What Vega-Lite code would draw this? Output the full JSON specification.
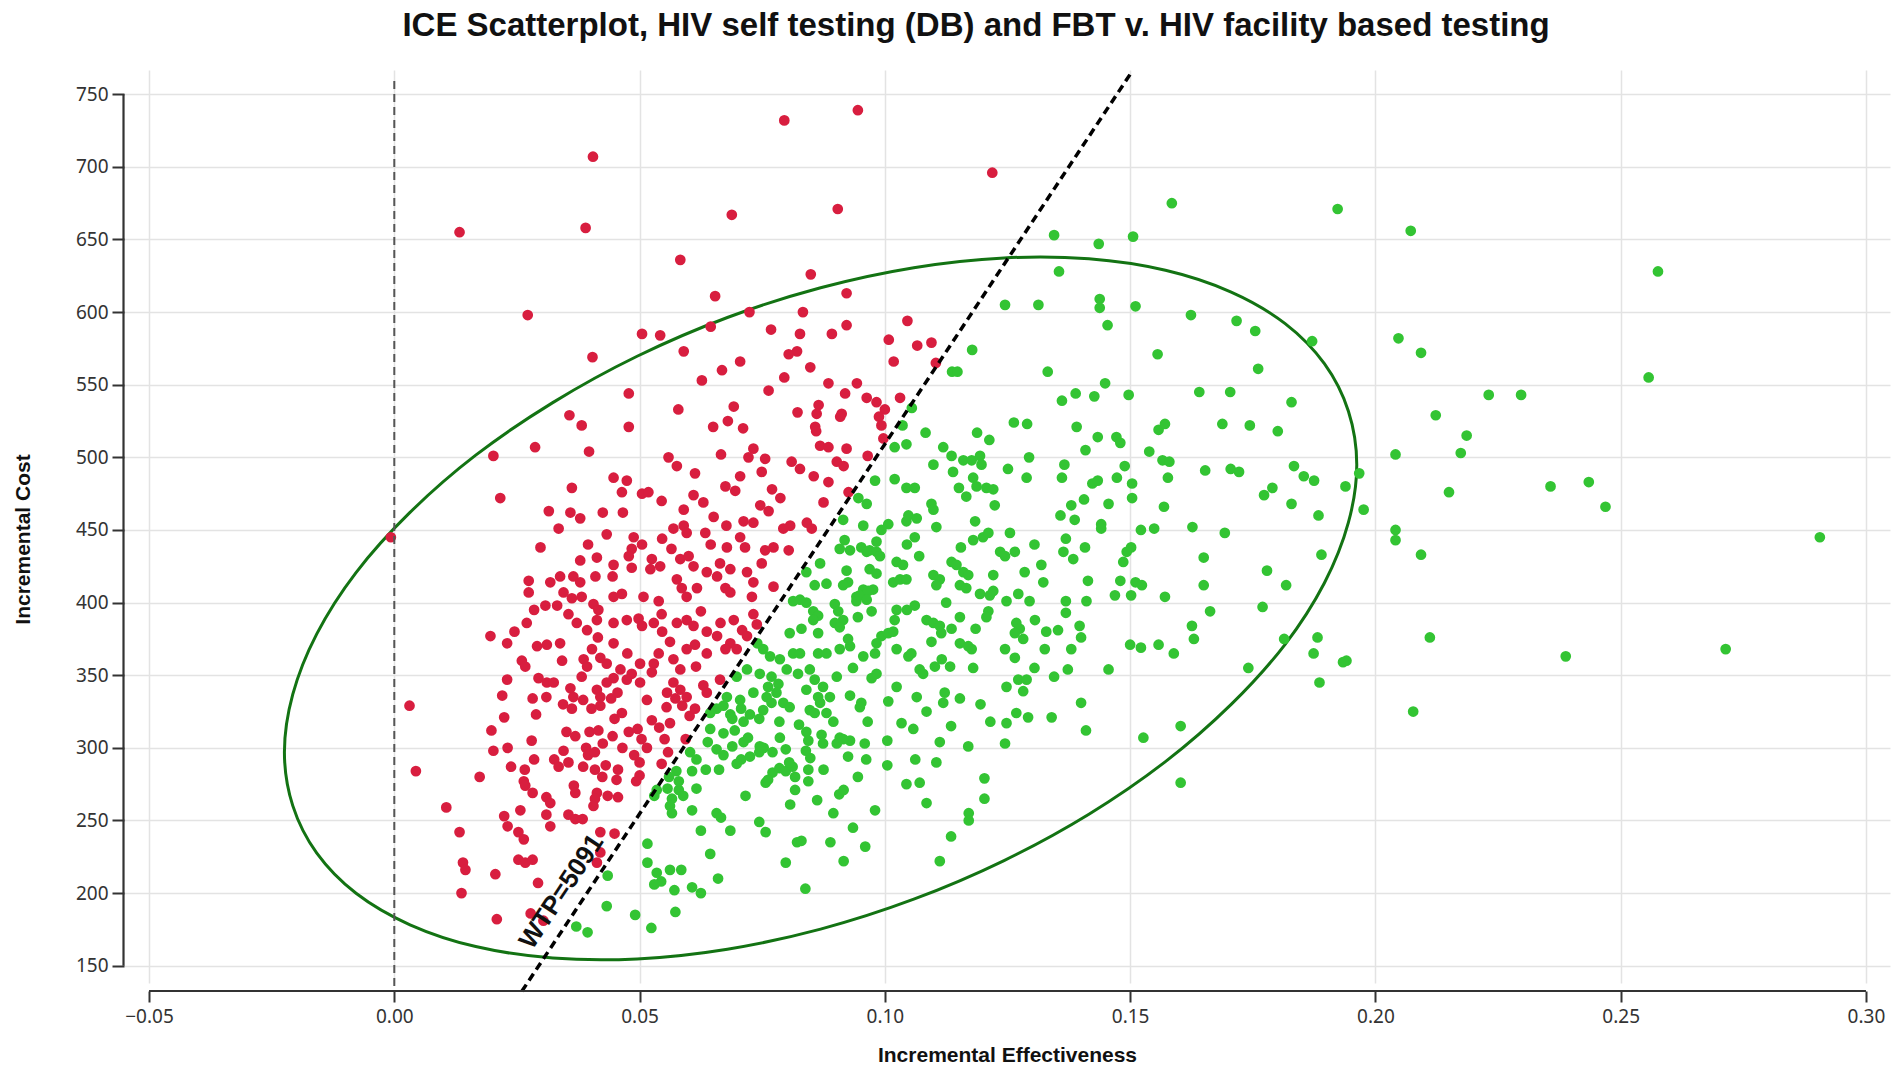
{
  "$schema": "https://vega.github.io/schema/vega-lite/v6.json",
  "width": 1766,
  "height": 913,
  "autosize": {"type": "none"},
  "padding": {"left": 124, "top": 70, "right": 11, "bottom": 96},
  "background": "#ffffff",
  "title": {
    "text": "ICE Scatterplot, HIV self testing (DB) and FBT v. HIV facility based testing",
    "font": "Liberation Sans",
    "fontSize": 33,
    "fontWeight": "bold",
    "color": "#111111",
    "anchor": "middle",
    "dx": -31,
    "offset": 27
  },
  "config": {
    "view": {"stroke": null},
    "axis": {
      "grid": true,
      "gridColor": "#e3e3e3",
      "gridWidth": 1.5,
      "domain": false,
      "tickColor": "#333333",
      "tickWidth": 2,
      "labelFont": "Noto Sans",
      "labelFontSize": 19,
      "labelColor": "#333333",
      "titleFont": "Liberation Sans",
      "titleFontSize": 21,
      "titleFontWeight": "bold",
      "titleColor": "#111111"
    }
  },
  "datasets": {
    "ellipse": [
      {"t":0,"e":0.1962,"c":495},{"t":1,"e":0.1945,"c":531.8},{"t":2,"e":0.1896,"c":564.5},{"t":3,"e":0.1816,"c":592.1},
      {"t":4,"e":0.1706,"c":613.8},{"t":5,"e":0.1572,"c":628.8},{"t":6,"e":0.1416,"c":636.7},{"t":7,"e":0.1243,"c":637.3},
      {"t":8,"e":0.1059,"c":630.6},{"t":9,"e":0.0869,"c":616.8},{"t":10,"e":0.0679,"c":596.3},{"t":11,"e":0.0495,"c":569.6},
      {"t":12,"e":0.0323,"c":537.7},{"t":13,"e":0.0166,"c":501.5},{"t":14,"e":0.0032,"c":462.1},{"t":15,"e":-0.0078,"c":420.7},
      {"t":16,"e":-0.0158,"c":378.5},{"t":17,"e":-0.0207,"c":336.8},{"t":18,"e":-0.0224,"c":297},{"t":19,"e":-0.0207,"c":260.2},
      {"t":20,"e":-0.0158,"c":227.5},{"t":21,"e":-0.0078,"c":199.9},{"t":22,"e":0.0032,"c":178.2},{"t":23,"e":0.0166,"c":163.2},
      {"t":24,"e":0.0323,"c":155.3},{"t":25,"e":0.0495,"c":154.7},{"t":26,"e":0.0679,"c":161.4},{"t":27,"e":0.0869,"c":175.2},
      {"t":28,"e":0.1059,"c":195.8},{"t":29,"e":0.1243,"c":222.4},{"t":30,"e":0.1416,"c":254.3},{"t":31,"e":0.1572,"c":290.5},
      {"t":32,"e":0.1706,"c":329.9},{"t":33,"e":0.1816,"c":371.3},{"t":34,"e":0.1896,"c":413.5},{"t":35,"e":0.1945,"c":455.2}
    ],
    "red": [
      {"e":0.0031,"c":329},{"e":0.0044,"c":284},{"e":0.0106,"c":259},{"e":0.0133,"c":242},{"e":0.014,"c":221},{"e":0.0145,"c":216},
      {"e":0.0137,"c":200},{"e":0.0209,"c":182},{"e":0.0206,"c":213},{"e":0.0174,"c":280},{"e":0.0198,"c":312},{"e":0.0202,"c":298},
      {"e":0.0224,"c":321},{"e":0.0231,"c":300},{"e":0.0238,"c":287},{"e":0.0266,"c":285},{"e":0.0282,"c":334},{"e":0.031,"c":335},
      {"e":0.0344,"c":330},{"e":0.0362,"c":327},{"e":0.0402,"c":327},{"e":0.042,"c":329},{"e":0.0442,"c":334},{"e":0.0449,"c":320},
      {"e":0.0464,"c":324},{"e":0.0351,"c":311},{"e":0.0369,"c":308},{"e":0.0398,"c":311},{"e":0.0416,"c":312},{"e":0.0445,"c":308},
      {"e":0.0391,"c":300},{"e":0.0395,"c":295},{"e":0.0409,"c":297},{"e":0.0326,"c":292},{"e":0.0355,"c":290},{"e":0.0431,"c":288},
      {"e":0.0456,"c":285},{"e":0.0409,"c":285},{"e":0.0424,"c":280},{"e":0.0489,"c":295},{"e":0.05,"c":290},{"e":0.0558,"c":297},
      {"e":0.0594,"c":306},{"e":0.0587,"c":329},{"e":0.0602,"c":322},{"e":0.0613,"c":327},{"e":0.0573,"c":334},{"e":0.0525,"c":319},
      {"e":0.054,"c":314},{"e":0.0504,"c":306},{"e":0.0478,"c":311},{"e":0.0496,"c":313},{"e":0.0551,"c":306},{"e":0.05,"c":281},
      {"e":0.0493,"c":277},{"e":0.0264,"c":277},{"e":0.0267,"c":274},{"e":0.0282,"c":269},{"e":0.031,"c":266},{"e":0.0318,"c":262},
      {"e":0.0366,"c":274},{"e":0.0369,"c":269},{"e":0.0413,"c":269},{"e":0.0409,"c":265},{"e":0.0435,"c":267},{"e":0.0456,"c":266},
      {"e":0.0231,"c":246},{"e":0.0224,"c":253},{"e":0.0253,"c":242},{"e":0.0264,"c":237},{"e":0.031,"c":254},{"e":0.0318,"c":246},
      {"e":0.0355,"c":254},{"e":0.0369,"c":251},{"e":0.0384,"c":251},{"e":0.0406,"c":260},{"e":0.042,"c":242},{"e":0.0449,"c":241},
      {"e":0.0253,"c":223},{"e":0.0267,"c":221},{"e":0.0282,"c":223},{"e":0.0293,"c":207},{"e":0.042,"c":228},{"e":0.0413,"c":221},
      {"e":0.0278,"c":186},{"e":0.0304,"c":181},{"e":0.028,"c":305},{"e":0.0289,"c":323},{"e":0.0562,"c":317},{"e":0.0453,"c":278},
      {"e":0.0335,"c":287},{"e":0.0257,"c":257},
      {"e":0.0505,"c":585},{"e":0.0542,"c":584},{"e":0.0404,"c":569},{"e":0.059,"c":573},{"e":0.0768,"c":588},{"e":0.0827,"c":585},
      {"e":0.0821,"c":573},{"e":0.0804,"c":571},{"e":0.0892,"c":585},{"e":0.0705,"c":566},{"e":0.0668,"c":560},{"e":0.0627,"c":553},
      {"e":0.0763,"c":546},{"e":0.0795,"c":555},{"e":0.0848,"c":562},{"e":0.0885,"c":551},{"e":0.0919,"c":544},{"e":0.0943,"c":551},
      {"e":0.0478,"c":544},{"e":0.0579,"c":533},{"e":0.0692,"c":535},{"e":0.068,"c":525},{"e":0.065,"c":521},{"e":0.0711,"c":520},
      {"e":0.0822,"c":531},{"e":0.0865,"c":536},{"e":0.0861,"c":530},{"e":0.0858,"c":521},{"e":0.086,"c":518},{"e":0.0912,"c":530},
      {"e":0.0909,"c":528},{"e":0.0868,"c":508},{"e":0.0885,"c":507},{"e":0.0922,"c":506},{"e":0.0902,"c":497},{"e":0.0916,"c":494},
      {"e":0.0357,"c":529},{"e":0.0382,"c":522},{"e":0.0478,"c":521},{"e":0.0287,"c":507},{"e":0.0397,"c":504},{"e":0.0202,"c":501},
      {"e":0.0216,"c":472},{"e":0.0559,"c":500},{"e":0.0576,"c":494},{"e":0.0666,"c":502},{"e":0.0613,"c":489},{"e":0.0732,"c":506},
      {"e":0.0722,"c":500},{"e":0.0756,"c":499},{"e":0.0749,"c":490},{"e":0.0705,"c":487},{"e":0.0695,"c":477},{"e":0.081,"c":497},
      {"e":0.0827,"c":492},{"e":0.0855,"c":487},{"e":0.0885,"c":483},{"e":0.077,"c":478},{"e":0.0787,"c":472},{"e":0.0875,"c":469},
      {"e":0.0926,"c":476},{"e":0.0447,"c":486},{"e":0.0474,"c":484},{"e":0.0464,"c":476},{"e":0.0505,"c":475},{"e":0.0518,"c":476},
      {"e":0.0362,"c":479},{"e":0.0315,"c":463},{"e":0.0359,"c":462},{"e":0.0379,"c":458},{"e":0.0335,"c":451},{"e":0.0466,"c":462},
      {"e":0.0433,"c":447},{"e":0.0488,"c":445},{"e":0.0484,"c":437},{"e":0.061,"c":474},{"e":0.063,"c":469},{"e":0.059,"c":464},
      {"e":0.0569,"c":451},{"e":0.059,"c":453},{"e":0.0596,"c":448},{"e":0.0651,"c":459},{"e":0.0634,"c":448},{"e":0.0677,"c":453},
      {"e":0.0712,"c":456},{"e":0.0732,"c":455},{"e":0.0746,"c":467},{"e":0.0763,"c":463},{"e":0.0807,"c":453},{"e":0.0841,"c":455},
      {"e":0.0851,"c":451},{"e":0.0793,"c":451},{"e":0.0678,"c":438},{"e":0.0715,"c":438},{"e":0.0756,"c":436},{"e":0.0773,"c":438},
      {"e":0.0804,"c":436},{"e":0.0749,"c":427},{"e":0.0546,"c":444},{"e":0.0298,"c":438},{"e":0.0379,"c":429},{"e":0.0413,"c":431},
      {"e":0.0447,"c":426},{"e":0.0478,"c":432},{"e":0.0484,"c":424},{"e":0.0525,"c":430},{"e":0.0542,"c":425},{"e":0.0583,"c":430},
      {"e":0.06,"c":432},{"e":0.061,"c":425},{"e":0.0664,"c":427},{"e":0.0685,"c":423},{"e":0.0719,"c":421},{"e":0.0732,"c":414},
      {"e":0.0729,"c":404},{"e":0.0773,"c":411},{"e":0.0637,"c":421},{"e":0.0658,"c":418},{"e":0.0675,"c":410},{"e":0.0685,"c":407},
      {"e":0.0617,"c":410},{"e":0.0576,"c":416},{"e":0.0586,"c":410},{"e":0.0596,"c":404},{"e":0.0522,"c":423},{"e":0.0508,"c":404},
      {"e":0.0539,"c":401},{"e":0.0464,"c":406},{"e":0.0447,"c":404},{"e":0.041,"c":418},{"e":0.0365,"c":418},{"e":0.0379,"c":414},
      {"e":0.0318,"c":414},{"e":0.0338,"c":418},{"e":0.0345,"c":407},{"e":0.0274,"c":415},{"e":0.0274,"c":407},{"e":0.0308,"c":398},
      {"e":0.0332,"c":398},{"e":0.0362,"c":403},{"e":0.0382,"c":404},{"e":0.0406,"c":399},{"e":0.0416,"c":395},{"e":0.0372,"c":386},
      {"e":0.0393,"c":381},{"e":0.0413,"c":388},{"e":0.0447,"c":386},{"e":0.0474,"c":388},{"e":0.0498,"c":389},{"e":0.0505,"c":384},
      {"e":0.0529,"c":386},{"e":0.0546,"c":380},{"e":0.0562,"c":373},{"e":0.0576,"c":386},{"e":0.0596,"c":388},{"e":0.061,"c":384},
      {"e":0.0637,"c":380},{"e":0.0658,"c":377},{"e":0.0692,"c":388},{"e":0.0709,"c":381},{"e":0.0719,"c":377},{"e":0.0685,"c":372},
      {"e":0.0698,"c":368},{"e":0.0732,"c":392},{"e":0.0739,"c":385},{"e":0.0675,"c":368},{"e":0.0637,"c":365},{"e":0.0613,"c":371},
      {"e":0.0596,"c":368},{"e":0.0569,"c":361},{"e":0.0583,"c":354},{"e":0.0539,"c":365},{"e":0.0529,"c":358},{"e":0.0501,"c":358},
      {"e":0.0484,"c":351},{"e":0.0461,"c":354},{"e":0.0447,"c":348},{"e":0.0433,"c":345},{"e":0.042,"c":362},{"e":0.0433,"c":358},
      {"e":0.0447,"c":372},{"e":0.0403,"c":368},{"e":0.0386,"c":361},{"e":0.0393,"c":356},{"e":0.0382,"c":349},{"e":0.0342,"c":360},
      {"e":0.0291,"c":370},{"e":0.0311,"c":371},{"e":0.0338,"c":372},{"e":0.023,"c":372},{"e":0.0196,"c":377},{"e":0.027,"c":386},
      {"e":0.026,"c":360},{"e":0.0267,"c":356},{"e":0.023,"c":347},{"e":0.022,"c":336},{"e":0.0294,"c":348},{"e":0.0311,"c":345},
      {"e":0.0359,"c":341},{"e":0.0365,"c":335},{"e":0.0413,"c":340},{"e":0.042,"c":335},{"e":0.0474,"c":347},{"e":0.0501,"c":345},
      {"e":0.0515,"c":333},{"e":0.0556,"c":338},{"e":0.0569,"c":345},{"e":0.0583,"c":340},{"e":0.0596,"c":335},{"e":0.063,"c":343},
      {"e":0.0637,"c":338},{"e":0.0664,"c":347},
      {"e":0.0849,"c":626},{"e":0.0654,"c":611},{"e":0.0724,"c":600},{"e":0.0833,"c":600},{"e":0.0922,"c":613},{"e":0.0645,"c":590},
      {"e":0.0904,"c":671},{"e":0.0688,"c":667},{"e":0.0795,"c":732},{"e":0.0945,"c":739},{"e":0.1219,"c":696},{"e":0.0583,"c":636},
      {"e":0.0922,"c":591},{"e":0.1046,"c":594},{"e":0.1008,"c":581},{"e":0.1018,"c":566},{"e":0.1066,"c":577},{"e":0.1095,"c":579},
      {"e":0.1104,"c":565},{"e":0.0963,"c":541},{"e":0.0983,"c":538},{"e":0.1,"c":533},{"e":0.1031,"c":541},{"e":0.0988,"c":528},
      {"e":0.0993,"c":522},{"e":0.0997,"c":513},{"e":0.0965,"c":501},{"e":0.0405,"c":707},{"e":0.039,"c":658},{"e":0.0133,"c":655},
      {"e":0.0272,"c":598},{"e":-0.0007,"c":445},
      {"e":0.0325,"c":345},{"e":0.0385,"c":333},{"e":0.0455,"c":338},{"e":0.0525,"c":352},{"e":0.0545,"c":392},{"e":0.0625,"c":394},
      {"e":0.0665,"c":386},{"e":0.0355,"c":392},{"e":0.0285,"c":395},{"e":0.0245,"c":380},{"e":0.0415,"c":376},{"e":0.0475,"c":365},
      {"e":0.0555,"c":328},{"e":0.0615,"c":356},{"e":0.0425,"c":303},{"e":0.0345,"c":298},{"e":0.0545,"c":289},{"e":0.0385,"c":287},
      {"e":0.0285,"c":292},{"e":0.0465,"c":300},{"e":0.0515,"c":300},{"e":0.0445,"c":418},{"e":0.0505,"c":440},{"e":0.0565,"c":437},
      {"e":0.0645,"c":440},{"e":0.0705,"c":445},{"e":0.0425,"c":462},{"e":0.0545,"c":470},{"e":0.0675,"c":480},{"e":0.0395,"c":440}
    ],
    "green": [
      {"e":0.0371,"c":177},{"e":0.0394,"c":173},{"e":0.0433,"c":191},{"e":0.0491,"c":185},{"e":0.0524,"c":176},{"e":0.0573,"c":187},
      {"e":0.0435,"c":212},{"e":0.0516,"c":234},{"e":0.0516,"c":221},{"e":0.0535,"c":214},{"e":0.0544,"c":208},{"e":0.053,"c":206},
      {"e":0.0562,"c":216},{"e":0.0585,"c":216},{"e":0.0571,"c":202},{"e":0.0607,"c":204},{"e":0.0625,"c":200},{"e":0.0644,"c":227},
      {"e":0.066,"c":210},{"e":0.0625,"c":243},{"e":0.0685,"c":243},{"e":0.0657,"c":255},{"e":0.0666,"c":252},{"e":0.0744,"c":249},
      {"e":0.0757,"c":242},{"e":0.0798,"c":221},{"e":0.0821,"c":235},{"e":0.083,"c":236},{"e":0.0838,"c":203},{"e":0.0889,"c":235},
      {"e":0.0916,"c":222},{"e":0.096,"c":232},{"e":0.053,"c":267},{"e":0.0535,"c":271},{"e":0.0557,"c":272},{"e":0.0566,"c":265},
      {"e":0.0562,"c":260},{"e":0.0566,"c":255},{"e":0.058,"c":271},{"e":0.0589,"c":267},{"e":0.0607,"c":257},{"e":0.0616,"c":272},
      {"e":0.056,"c":280},{"e":0.0575,"c":284},{"e":0.058,"c":277},{"e":0.0603,"c":297},{"e":0.0616,"c":292},{"e":0.0607,"c":284},
      {"e":0.0639,"c":304},{"e":0.0657,"c":299},{"e":0.0671,"c":295},{"e":0.0635,"c":285},{"e":0.0662,"c":285},{"e":0.0644,"c":313},
      {"e":0.0671,"c":310},{"e":0.0694,"c":312},{"e":0.0657,"c":327},{"e":0.0685,"c":323},{"e":0.0707,"c":327},{"e":0.0689,"c":301},
      {"e":0.0712,"c":304},{"e":0.0721,"c":307},{"e":0.0707,"c":292},{"e":0.0698,"c":289},{"e":0.0725,"c":294},{"e":0.0744,"c":297},
      {"e":0.0753,"c":300},{"e":0.0716,"c":267},{"e":0.0757,"c":276},{"e":0.0771,"c":283},{"e":0.0762,"c":278},{"e":0.0785,"c":286},
      {"e":0.0798,"c":284},{"e":0.0812,"c":287},{"e":0.0817,"c":280},{"e":0.0817,"c":271},{"e":0.0807,"c":261},{"e":0.0844,"c":277},
      {"e":0.0844,"c":285},{"e":0.0848,"c":293},{"e":0.0839,"c":298},{"e":0.0862,"c":264},{"e":0.0907,"c":268},{"e":0.0916,"c":271},
      {"e":0.0925,"c":294},{"e":0.0771,"c":297},{"e":0.0798,"c":299},{"e":0.0962,"c":292},{"e":0.098,"c":257},{"e":0.1044,"c":275},
      {"e":0.1071,"c":276},{"e":0.1062,"c":292},{"e":0.1135,"c":239},{"e":0.1112,"c":222},{"e":0.1171,"c":255},{"e":0.1171,"c":250},
      {"e":0.1203,"c":279},{"e":0.1203,"c":265},{"e":0.0644,"c":324},{"e":0.0671,"c":329},{"e":0.0689,"c":320},{"e":0.0712,"c":318},
      {"e":0.0725,"c":323},{"e":0.0744,"c":320},
      {"e":0.0915,"c":457},{"e":0.0956,"c":453},{"e":0.1044,"c":456},{"e":0.1007,"c":454},{"e":0.1184,"c":456},{"e":0.0993,"c":450},
      {"e":0.1061,"c":445},{"e":0.107,"c":432},{"e":0.1024,"c":428},{"e":0.1037,"c":426},{"e":0.0983,"c":442},{"e":0.0969,"c":436},
      {"e":0.0983,"c":435},{"e":0.099,"c":432},{"e":0.0918,"c":443},{"e":0.0908,"c":437},{"e":0.0929,"c":436},{"e":0.0952,"c":438},
      {"e":0.0963,"c":435},{"e":0.084,"c":421},{"e":0.0868,"c":427},{"e":0.0881,"c":413},{"e":0.0857,"c":412},{"e":0.0922,"c":422},
      {"e":0.0925,"c":414},{"e":0.0915,"c":412},{"e":0.0969,"c":423},{"e":0.0983,"c":420},{"e":0.1017,"c":414},{"e":0.1031,"c":416},
      {"e":0.1044,"c":416},{"e":0.0956,"c":409},{"e":0.0976,"c":409},{"e":0.0942,"c":404},{"e":0.1136,"c":428},{"e":0.1146,"c":426},
      {"e":0.116,"c":421},{"e":0.117,"c":419},{"e":0.1099,"c":419},{"e":0.1112,"c":416},{"e":0.1105,"c":412},{"e":0.1153,"c":412},
      {"e":0.1166,"c":410},{"e":0.1221,"c":419},{"e":0.1221,"c":408},{"e":0.1194,"c":406},{"e":0.1235,"c":435},{"e":0.1245,"c":432},
      {"e":0.1265,"c":435},{"e":0.118,"c":443},{"e":0.12,"c":445},{"e":0.1211,"c":448},{"e":0.1285,"c":421},{"e":0.1319,"c":426},
      {"e":0.1323,"c":414},{"e":0.1272,"c":406},{"e":0.1295,"c":401},{"e":0.1248,"c":401},{"e":0.1214,"c":405},{"e":0.084,"c":400},
      {"e":0.0854,"c":394},{"e":0.0864,"c":391},{"e":0.0854,"c":388},{"e":0.0813,"c":401},{"e":0.0827,"c":402},{"e":0.0806,"c":379},
      {"e":0.083,"c":382},{"e":0.0864,"c":379},{"e":0.0898,"c":399},{"e":0.0905,"c":394},{"e":0.0915,"c":388},{"e":0.0898,"c":386},
      {"e":0.0908,"c":383},{"e":0.0942,"c":401},{"e":0.0949,"c":405},{"e":0.0966,"c":408},{"e":0.0973,"c":394},{"e":0.0963,"c":402},
      {"e":0.1024,"c":395},{"e":0.102,"c":388},{"e":0.1061,"c":398},{"e":0.1085,"c":388},{"e":0.1099,"c":386},{"e":0.1112,"c":384},
      {"e":0.1115,"c":379},{"e":0.1136,"c":382},{"e":0.1095,"c":373},{"e":0.1153,"c":390},{"e":0.1153,"c":372},{"e":0.117,"c":370},
      {"e":0.1177,"c":368},{"e":0.0993,"c":377},{"e":0.1007,"c":379},{"e":0.1017,"c":380},{"e":0.0983,"c":372},{"e":0.098,"c":365},
      {"e":0.1024,"c":368},{"e":0.1048,"c":363},{"e":0.1054,"c":365},{"e":0.1071,"c":354},{"e":0.1078,"c":351},{"e":0.1102,"c":356},
      {"e":0.1116,"c":361},{"e":0.1133,"c":356},{"e":0.118,"c":355},{"e":0.1211,"c":394},{"e":0.1207,"c":390},{"e":0.1268,"c":386},
      {"e":0.1275,"c":382},{"e":0.1265,"c":379},{"e":0.1282,"c":375},{"e":0.1306,"c":388},{"e":0.1329,"c":380},{"e":0.1265,"c":362},
      {"e":0.1326,"c":368},{"e":0.1248,"c":342},{"e":0.1272,"c":347},{"e":0.1282,"c":339},{"e":0.1289,"c":347},{"e":0.1268,"c":324},
      {"e":0.1292,"c":321},{"e":0.1248,"c":317},{"e":0.1245,"c":303},{"e":0.117,"c":301},{"e":0.1112,"c":304},{"e":0.1122,"c":338},
      {"e":0.1119,"c":331},{"e":0.1153,"c":334},{"e":0.1058,"c":313},{"e":0.1034,"c":317},{"e":0.1007,"c":332},{"e":0.1024,"c":342},
      {"e":0.0983,"c":351},{"e":0.0973,"c":348},{"e":0.0929,"c":336},{"e":0.0952,"c":331},{"e":0.0949,"c":328},{"e":0.0959,"c":303},
      {"e":0.0908,"c":307},{"e":0.0929,"c":305},{"e":0.0871,"c":309},{"e":0.0874,"c":303},{"e":0.084,"c":311},{"e":0.0844,"c":305},
      {"e":0.0786,"c":307},{"e":0.0752,"c":368},{"e":0.0766,"c":363},{"e":0.0745,"c":351},{"e":0.0769,"c":349},{"e":0.0762,"c":342},
      {"e":0.0783,"c":344},{"e":0.0759,"c":335},{"e":0.0779,"c":338},{"e":0.0752,"c":326},{"e":0.0769,"c":331},{"e":0.0793,"c":331},
      {"e":0.0806,"c":328},{"e":0.0786,"c":361},{"e":0.0813,"c":365},{"e":0.0827,"c":365},{"e":0.08,"c":354},{"e":0.0823,"c":351},
      {"e":0.0847,"c":354},{"e":0.0864,"c":365},{"e":0.0881,"c":365},{"e":0.0857,"c":347},{"e":0.0874,"c":342},{"e":0.084,"c":340},
      {"e":0.0864,"c":335},{"e":0.0888,"c":335},{"e":0.0868,"c":331},{"e":0.0847,"c":326},{"e":0.0857,"c":324},{"e":0.0881,"c":324},
      {"e":0.0902,"c":349},{"e":0.0908,"c":368},{"e":0.0929,"c":370},{"e":0.0956,"c":363},{"e":0.0935,"c":355},{"e":0.0745,"c":301},
      {"e":0.0902,"c":303},{"e":0.0915,"c":306},
      {"e":0.0698,"c":349},{"e":0.0719,"c":354},{"e":0.074,"c":372},{"e":0.0678,"c":335},{"e":0.0705,"c":333},{"e":0.0732,"c":338},
      {"e":0.1036,"c":522},{"e":0.1083,"c":517},{"e":0.102,"c":507},{"e":0.1044,"c":509},{"e":0.1119,"c":507},{"e":0.1136,"c":501},
      {"e":0.116,"c":498},{"e":0.1177,"c":498},{"e":0.1194,"c":501},{"e":0.1197,"c":495},{"e":0.1188,"c":517},{"e":0.1213,"c":512},
      {"e":0.1263,"c":524},{"e":0.129,"c":523},{"e":0.1294,"c":500},{"e":0.1251,"c":492},{"e":0.102,"c":485},{"e":0.098,"c":484},
      {"e":0.1044,"c":479},{"e":0.1061,"c":479},{"e":0.1099,"c":495},{"e":0.1139,"c":490},{"e":0.1151,"c":479},{"e":0.118,"c":486},
      {"e":0.1187,"c":480},{"e":0.1207,"c":479},{"e":0.1221,"c":478},{"e":0.1166,"c":473},{"e":0.1224,"c":467},{"e":0.1095,"c":468},
      {"e":0.1099,"c":464},{"e":0.1289,"c":486},{"e":0.0946,"c":472},{"e":0.0963,"c":468},{"e":0.1048,"c":460},{"e":0.1065,"c":458},
      {"e":0.1178,"c":574},{"e":0.1137,"c":559},{"e":0.1148,"c":559},{"e":0.1332,"c":559},{"e":0.1245,"c":605},{"e":0.1313,"c":605},
      {"e":0.1055,"c":534},
      {"e":0.1585,"c":675},{"e":0.1923,"c":671},{"e":0.2072,"c":656},{"e":0.1345,"c":653},{"e":0.1436,"c":647},{"e":0.1506,"c":652},
      {"e":0.1355,"c":628},{"e":0.2576,"c":628},{"e":0.1438,"c":609},{"e":0.1438,"c":603},{"e":0.1511,"c":604},{"e":0.1454,"c":591},
      {"e":0.1624,"c":598},{"e":0.1717,"c":594},{"e":0.1755,"c":587},{"e":0.1871,"c":580},{"e":0.2047,"c":582},{"e":0.2093,"c":572},
      {"e":0.1556,"c":571},{"e":0.1761,"c":561},{"e":0.2557,"c":555},{"e":0.1449,"c":551},{"e":0.1361,"c":539},{"e":0.1389,"c":544},
      {"e":0.1427,"c":542},{"e":0.1497,"c":543},{"e":0.1641,"c":545},{"e":0.1704,"c":545},{"e":0.1829,"c":538},{"e":0.2231,"c":543},
      {"e":0.2297,"c":543},{"e":0.2123,"c":529},{"e":0.2186,"c":515},{"e":0.2174,"c":503},{"e":0.2041,"c":502},{"e":0.1391,"c":521},
      {"e":0.1434,"c":514},{"e":0.1472,"c":514},{"e":0.148,"c":510},{"e":0.1409,"c":505},{"e":0.1558,"c":519},{"e":0.1571,"c":523},
      {"e":0.1688,"c":523},{"e":0.1744,"c":522},{"e":0.1801,"c":518},{"e":0.1539,"c":504},{"e":0.1566,"c":498},{"e":0.158,"c":497},
      {"e":0.1366,"c":495},{"e":0.1361,"c":486},{"e":0.1489,"c":494},{"e":0.1577,"c":486},{"e":0.1653,"c":491},{"e":0.1705,"c":492},
      {"e":0.1722,"c":490},{"e":0.1834,"c":494},{"e":0.1854,"c":487},{"e":0.1875,"c":484},{"e":0.1967,"c":489},{"e":0.1939,"c":480},
      {"e":0.1976,"c":464},{"e":0.2357,"c":480},{"e":0.2435,"c":483},{"e":0.2469,"c":466},{"e":0.215,"c":476},{"e":0.1423,"c":482},
      {"e":0.1434,"c":484},{"e":0.1473,"c":486},{"e":0.1504,"c":482},{"e":0.1504,"c":472},{"e":0.1406,"c":471},{"e":0.138,"c":467},
      {"e":0.1456,"c":468},{"e":0.1569,"c":466},{"e":0.1773,"c":474},{"e":0.179,"c":479},{"e":0.1829,"c":468},{"e":0.1884,"c":460},
      {"e":0.1358,"c":460},{"e":0.1387,"c":457},{"e":0.1441,"c":454},{"e":0.1441,"c":451},{"e":0.1522,"c":450},{"e":0.1549,"c":451},
      {"e":0.1627,"c":452},{"e":0.1693,"c":448},{"e":0.2041,"c":450},{"e":0.2041,"c":443},{"e":0.2906,"c":445},{"e":0.1369,"c":444},
      {"e":0.1364,"c":435},{"e":0.1384,"c":430},{"e":0.1408,"c":438},{"e":0.1502,"c":438},{"e":0.1493,"c":435},{"e":0.1486,"c":428},
      {"e":0.165,"c":431},{"e":0.189,"c":433},{"e":0.2093,"c":433},{"e":0.1779,"c":422},{"e":0.1818,"c":412},{"e":0.165,"c":412},
      {"e":0.1414,"c":415},{"e":0.148,"c":415},{"e":0.1511,"c":414},{"e":0.1524,"c":412},{"e":0.1571,"c":404},{"e":0.1369,"c":401},
      {"e":0.1369,"c":393},{"e":0.1411,"c":401},{"e":0.1469,"c":405},{"e":0.1502,"c":405},{"e":0.1663,"c":394},{"e":0.177,"c":397},
      {"e":0.1353,"c":381},{"e":0.1397,"c":384},{"e":0.14,"c":376},{"e":0.138,"c":368},{"e":0.15,"c":371},{"e":0.1522,"c":369},
      {"e":0.1558,"c":371},{"e":0.1589,"c":365},{"e":0.1626,"c":384},{"e":0.163,"c":375},{"e":0.1814,"c":375},{"e":0.1882,"c":376},
      {"e":0.1874,"c":365},{"e":0.1941,"c":360},{"e":0.1934,"c":359},{"e":0.2111,"c":376},{"e":0.2388,"c":363},{"e":0.2714,"c":368},
      {"e":0.1373,"c":354},{"e":0.1345,"c":349},{"e":0.1456,"c":354},{"e":0.1741,"c":355},{"e":0.1886,"c":345},{"e":0.14,"c":331},
      {"e":0.134,"c":321},{"e":0.141,"c":312},{"e":0.1527,"c":307},{"e":0.1603,"c":315},{"e":0.2077,"c":325},{"e":0.1603,"c":276},
      {"e":0.0785,"c":318},{"e":0.0825,"c":316},{"e":0.0895,"c":318},{"e":0.0965,"c":318},{"e":0.1005,"c":305},{"e":0.1065,"c":335},
      {"e":0.1085,"c":325},{"e":0.1135,"c":315},{"e":0.1195,"c":330},{"e":0.1215,"c":318},{"e":0.0805,"c":290},{"e":0.0875,"c":285},
      {"e":0.0945,"c":280},{"e":0.1005,"c":288},{"e":0.1105,"c":290},{"e":0.1085,"c":262},{"e":0.0895,"c":255},{"e":0.0935,"c":245},
      {"e":0.1045,"c":395},{"e":0.1125,"c":400},{"e":0.1185,"c":382},{"e":0.1245,"c":368},{"e":0.1305,"c":355},{"e":0.1045,"c":440},
      {"e":0.1105,"c":452},{"e":0.1155,"c":438},{"e":0.1255,"c":448},{"e":0.1305,"c":440},{"e":0.0945,"c":390},{"e":0.0925,"c":375}
    ],
    "zero": [{"e":0,"c":136,"c2":761}],
    "wtp": [{"e":0.026,"c":132.4,"e2":0.1502,"c2":764.7}],
    "label": [{"e":0.0341,"c":201,"label":"WTP=5091"}],
    "axisY": [{"e":-0.0552,"c":150,"c2":750}],
    "axisX": [{"e":-0.05,"e2":0.3,"c":132.6}]
  },
  "encoding": {
    "x": {
      "field": "e",
      "type": "quantitative",
      "title": "Incremental Effectiveness",
      "scale": {"domain": [-0.0551, 0.3049], "nice": false, "zero": false},
      "axis": {
        "values": [-0.05, 0, 0.05, 0.1, 0.15, 0.2, 0.25, 0.3],
        "format": ".2f",
        "offset": 8,
        "tickSize": 11,
        "labelPadding": 5,
        "titleY": 70,
        "titleBaseline": "alphabetic"
      }
    },
    "y": {
      "field": "c",
      "type": "quantitative",
      "title": "Incremental Cost",
      "scale": {"domain": [138.1, 766.7], "nice": false, "zero": false},
      "axis": {
        "values": [150, 200, 250, 300, 350, 400, 450, 500, 550, 600, 650, 700, 750],
        "format": "d",
        "tickSize": 12,
        "labelPadding": 4,
        "titleX": -101,
        "titleY": 469,
        "titleAlign": "center",
        "titleBaseline": "middle",
        "titleAngle": 270
      }
    }
  },
  "layer": [
    {
      "data": {"name": "ellipse"},
      "mark": {"type": "line", "interpolate": "cardinal-closed", "color": "#137313", "strokeWidth": 3},
      "encoding": {"order": {"field": "t", "type": "quantitative"}}
    },
    {
      "data": {"name": "red"},
      "mark": {"type": "circle", "color": "#d81e3f", "size": 115, "opacity": 1}
    },
    {
      "data": {"name": "green"},
      "mark": {"type": "circle", "color": "#33c433", "size": 115, "opacity": 1}
    },
    {
      "data": {"name": "zero"},
      "mark": {"type": "rule", "color": "#555555", "strokeWidth": 2, "strokeDash": [8, 5]},
      "encoding": {"y2": {"field": "c2"}}
    },
    {
      "data": {"name": "wtp"},
      "mark": {"type": "rule", "color": "#000000", "strokeWidth": 3.5, "strokeDash": [8, 5]},
      "encoding": {"x2": {"field": "e2"}, "y2": {"field": "c2"}}
    },
    {
      "data": {"name": "label"},
      "mark": {"type": "text", "angle": 303.5, "font": "Liberation Sans", "fontSize": 26, "fontWeight": "bold", "color": "#111111", "align": "center", "baseline": "middle"},
      "encoding": {"text": {"field": "label"}}
    },
    {
      "data": {"name": "axisY"},
      "mark": {"type": "rule", "color": "#333333", "strokeWidth": 2.2},
      "encoding": {"y2": {"field": "c2"}}
    },
    {
      "data": {"name": "axisX"},
      "mark": {"type": "rule", "color": "#333333", "strokeWidth": 2.2},
      "encoding": {"x2": {"field": "e2"}}
    }
  ]
}
